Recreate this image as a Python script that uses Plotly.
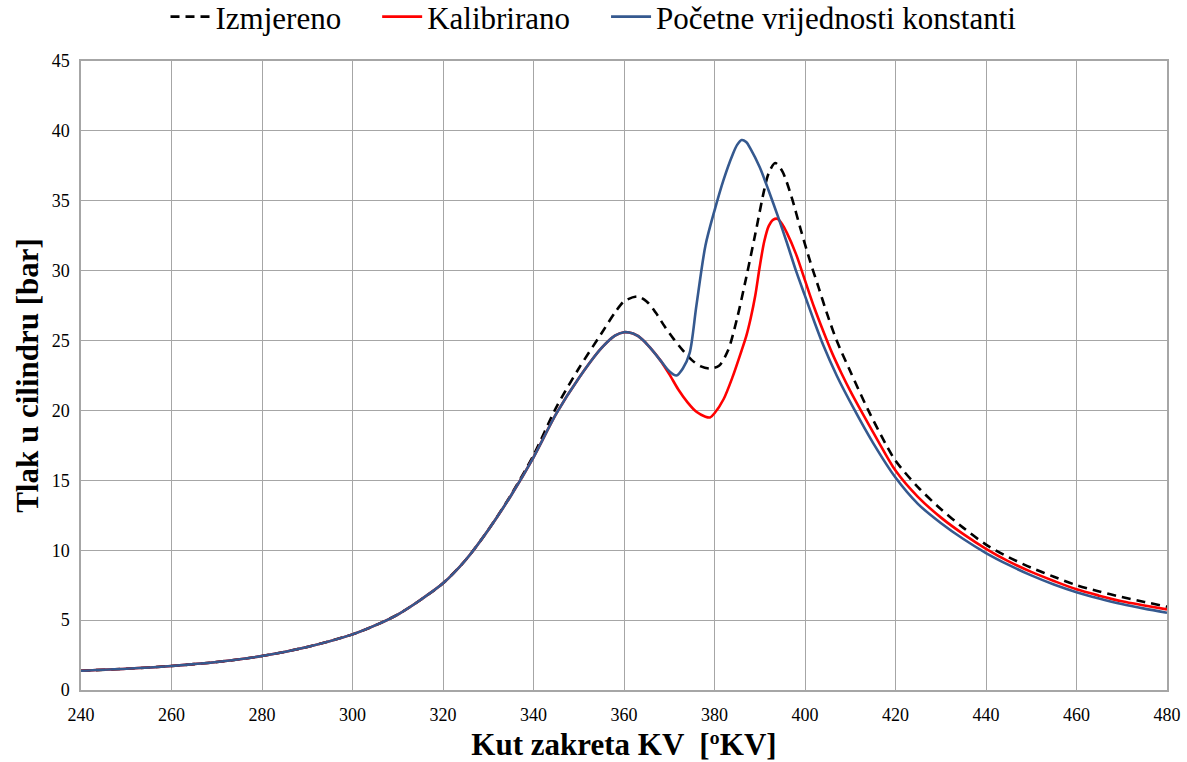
import plotly.graph_objects as go

# shared part of both simulated curves (before they diverge)
base_x = [240, 250, 260, 270, 280, 290, 300, 305, 310, 315, 320, 325, 330, 335, 340, 345, 350, 355, 358, 360, 362, 364, 366]
base_y = [1.38, 1.52, 1.72, 2.0, 2.43, 3.08, 3.98, 4.62, 5.4, 6.44, 7.63, 9.3, 11.45, 13.9, 16.65, 19.75, 22.3, 24.45, 25.35, 25.6, 25.5, 25.1, 24.4]

kal_x = [368, 370, 372, 374, 376, 378, 379, 380, 382, 384, 386, 387, 388, 389, 390, 391, 392, 393, 394, 395, 396, 398, 400, 402, 404, 406, 408, 410, 412, 416, 420, 425, 430, 435, 440, 445, 450, 455, 460, 465, 470, 475, 480]
kal_y = [23.6, 22.6, 21.5, 20.6, 19.9, 19.55, 19.5, 19.8, 20.8, 22.4, 24.3, 25.3, 26.6, 28.2, 30.3, 32.1, 33.2, 33.65, 33.7, 33.3, 32.7, 31.2, 29.3, 27.4, 25.7, 24.1, 22.7, 21.4, 20.2, 17.9, 15.7, 13.8, 12.35, 11.15, 10.1, 9.2, 8.45, 7.8, 7.2, 6.75, 6.35, 6.05, 5.77]

poc_x = [368, 370, 371.6, 373, 374.5, 376, 378, 380, 382, 384, 385, 386, 387, 388, 390, 392, 394, 396, 398, 400, 402, 404, 407, 411, 415, 420, 425, 430, 435, 440, 445, 450, 455, 460, 465, 470, 475, 480]
poc_y = [23.6, 22.8, 22.5, 23.0, 24.1, 27.5, 31.8, 34.3, 36.5, 38.3, 39.0, 39.35, 39.2, 38.7, 37.4, 35.7, 33.9, 32.0, 30.0, 28.2, 26.4, 24.7, 22.5, 20.0, 17.7, 15.2, 13.3, 11.95, 10.8, 9.8, 8.95, 8.2, 7.55, 7.0, 6.55, 6.15, 5.82, 5.53]

izm_x = [240, 250, 260, 270, 280, 290, 300, 305, 310, 315, 320, 325, 330, 335, 340, 345, 350, 355, 358, 360, 363, 365, 367, 369, 371, 373, 375, 377, 379, 381, 383, 385, 387, 389, 391, 392, 393.4, 395, 397, 399, 401, 403, 405, 407, 410, 414, 418, 420, 425, 430, 435, 440, 445, 450, 455, 460, 465, 470, 475, 480]
izm_y = [1.38, 1.52, 1.72, 2.0, 2.43, 3.08, 3.98, 4.62, 5.4, 6.44, 7.63, 9.3, 11.45, 13.95, 16.8, 20.2, 23.0, 25.5, 27.0, 27.8, 28.15, 27.8, 27.0, 26.0, 25.1, 24.3, 23.6, 23.15, 23.0, 23.2, 24.3, 26.6, 29.5, 32.6, 35.8, 37.0, 37.7, 37.1, 35.3, 33.0, 30.8, 28.8, 26.8, 25.0, 22.8, 20.0, 17.5, 16.4, 14.5, 12.95, 11.6, 10.4, 9.5, 8.75, 8.1, 7.5, 7.05, 6.65, 6.3, 5.96]

serif = "Liberation Serif"
gap = "\u00a0" * 4  # extra room between legend entries

fig = go.Figure()
fig.add_trace(go.Scatter(x=izm_x, y=izm_y, name="Izmjereno" + gap, mode="lines",
                         line=dict(color="black", width=2.6, dash="9px,6px", shape="spline", smoothing=0.8)))
fig.add_trace(go.Scatter(x=base_x + kal_x, y=base_y + kal_y, name="Kalibrirano" + gap, mode="lines",
                         line=dict(color="#FF0000", width=2.6, shape="spline", smoothing=0.8)))
fig.add_trace(go.Scatter(x=base_x + poc_x, y=base_y + poc_y, name="Početne vrijednosti konstanti", mode="lines",
                         line=dict(color="#35598F", width=2.6, shape="spline", smoothing=0.8)))

fig.update_layout(
    width=1187, height=762,
    margin=dict(l=81, r=20, t=61, b=72, autoexpand=False),
    plot_bgcolor="white", paper_bgcolor="white",
    font=dict(family=serif, color="black"),
    legend=dict(orientation="h", xref="container", x=0.5, xanchor="center", y=1.07, yanchor="middle",
                font=dict(size=31, family=serif), itemwidth=40),
    xaxis=dict(range=[240, 480], dtick=20, tick0=240, showgrid=True, gridcolor="#A6A6A6", gridwidth=1.3,
               showline=True, linecolor="#A6A6A6", linewidth=1.5, mirror=True, ticks="",
               ticklabelstandoff=8,
               tickfont=dict(size=18, family=serif), zeroline=False,
               title=dict(text="<b>Kut zakreta KV  [ºKV]</b>", font=dict(size=31, family=serif), standoff=14)),
    yaxis=dict(range=[0, 45], dtick=5, showgrid=True, gridcolor="#A6A6A6", gridwidth=1.3,
               showline=True, linecolor="#A6A6A6", linewidth=1.5, mirror=True, ticks="",
               ticklabelstandoff=6,
               tickfont=dict(size=18, family=serif), zeroline=False,
               title=dict(text="<b>Tlak u cilindru [bar]</b>", font=dict(size=31, family=serif), standoff=4)),
)

fig.write_html("out.html", config={"displayModeBar": False},
               post_script="document.body.style.margin='0';")
